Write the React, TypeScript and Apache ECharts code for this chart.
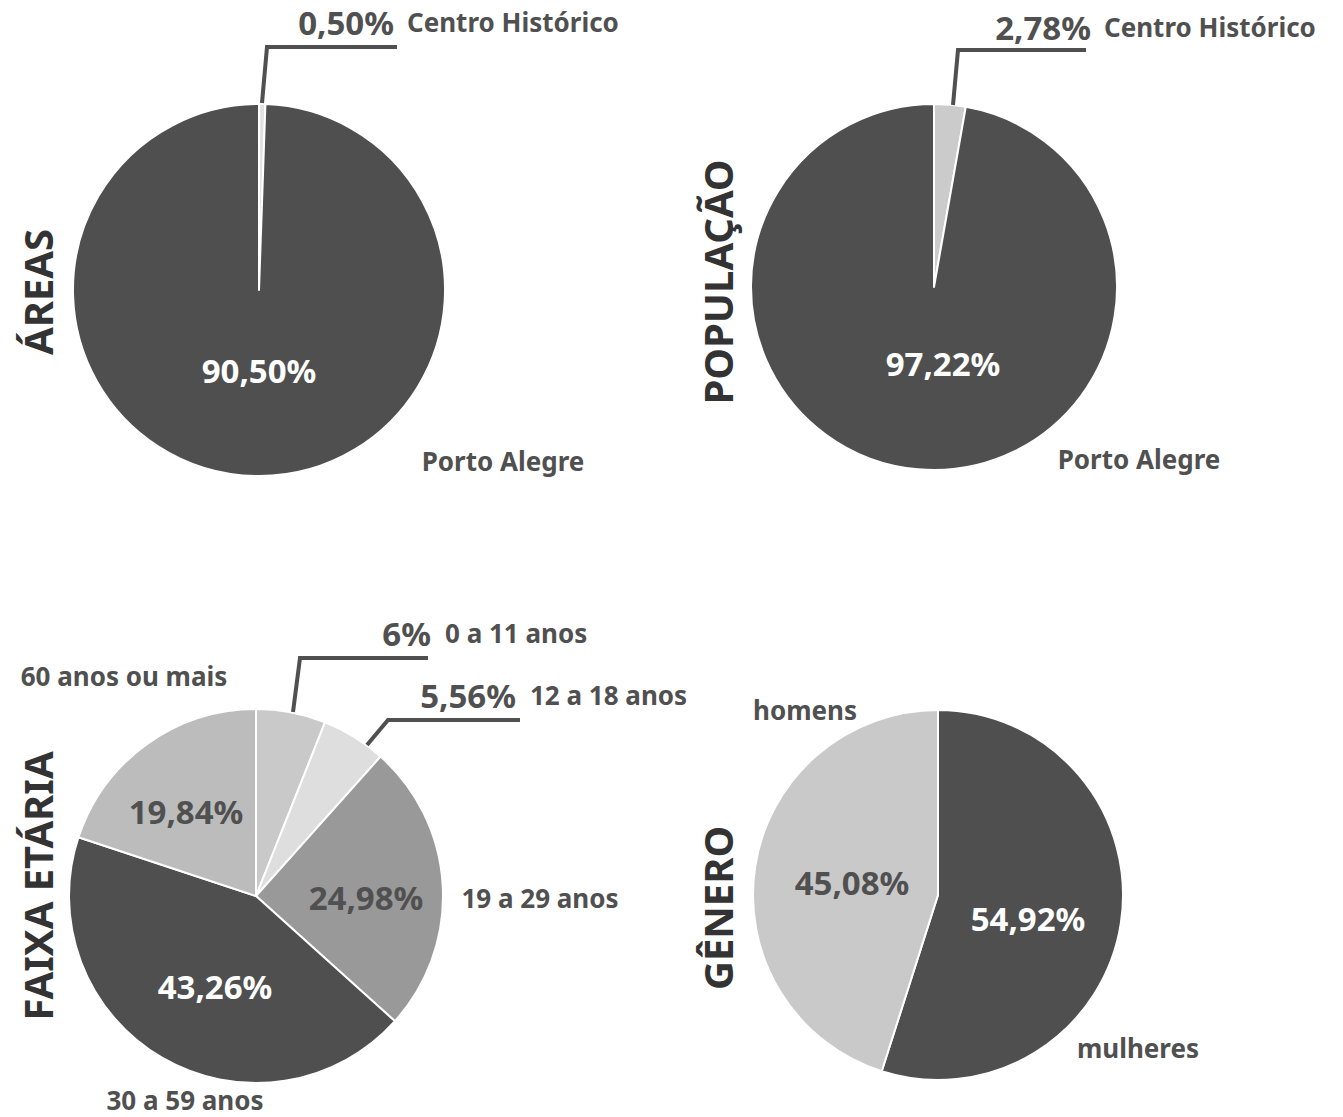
import React, { useEffect, useRef } from "react";
import * as echarts from "echarts";

const areaNames = ["Centro Histórico", "Porto Alegre"];
const areaValues = [0.5, 90.5];
const areaColors = ["#e2e2e2", "#4f4f4f"];

const popNames = ["Centro Histórico", "Porto Alegre"];
const popValues = [2.78, 97.22];
const popColors = ["#cbcbcb", "#4f4f4f"];

const ageNames = ["0 a 11 anos", "12 a 18 anos", "19 a 29 anos", "30 a 59 anos", "60 anos ou mais"];
const ageValues = [6, 5.56, 24.98, 43.26, 19.84];
const ageColors = ["#c9c9c9", "#dedede", "#999999", "#4f4f4f", "#bcbcbc"];

const genderNames = ["mulheres", "homens"];
const genderValues = [54.92, 45.08];
const genderColors = ["#4f4f4f", "#c9c9c9"];

const titles = ["ÁREAS", "POPULAÇÃO", "FAIXA ETÁRIA", "GÊNERO"];

const FONT = "'Noto Sans', 'Open Sans', sans-serif";
const DARK = "#505050";

const fmt = (v: number) =>
  (Number.isInteger(v) ? String(v) : v.toFixed(2).replace(".", ",")) + "%";

function pieSeries(names: string[], values: number[], colors: string[], center: number[], r: number) {
  return {
    type: "pie",
    center,
    radius: r,
    startAngle: 90,
    clockwise: true,
    z: 1,
    label: { show: false },
    labelLine: { show: false },
    silent: true,
    itemStyle: { borderColor: "#ffffff", borderWidth: 2 },
    data: names.map((n, i) => ({ name: n, value: values[i], itemStyle: { color: colors[i] } })),
  };
}

function txt(x: number, y: number, text: string, size: number, color = DARK, align = "center", rotation = 0) {
  return {
    type: "text",
    x,
    y,
    z: 100,
    rotation,
    style: {
      text,
      fill: color,
      font: `bold ${size}px ${FONT}`,
      align,
      verticalAlign: "middle",
    },
  };
}

function line(points: number[][]) {
  return {
    type: "polyline",
    z: 100,
    shape: { points },
    style: { stroke: DARK, lineWidth: 4, fill: null },
  };
}

export default function App() {
  const ref = useRef<HTMLDivElement>(null);
  useEffect(() => {
    if (!ref.current) return;
    const chart = echarts.init(ref.current, null, { renderer: "svg" });
    const PCT = 33;
    const LBL = 26;
    const TTL = 40;
    chart.setOption({
      animation: false,
      backgroundColor: "#ffffff",
      series: [
        pieSeries(areaNames, areaValues, areaColors, [259, 290], 186),
        pieSeries(popNames, popValues, popColors, [934, 287], 183),
        pieSeries(ageNames, ageValues, ageColors, [256, 896], 187),
        pieSeries(genderNames, genderValues, genderColors, [938, 895], 185),
      ],
      graphic: {
        elements: [
          // titles
          txt(37, 292, titles[0], TTL, "#333333", "center", Math.PI / 2),
          txt(717, 282, titles[1], TTL, "#333333", "center", Math.PI / 2),
          txt(37, 886, titles[2], TTL, "#333333", "center", Math.PI / 2),
          txt(717, 908, titles[3], TTL, "#333333", "center", Math.PI / 2),
          // pie 1
          txt(394, 22, fmt(areaValues[0]), PCT, DARK, "right"),
          txt(407, 22, areaNames[0], LBL, DARK, "left"),
          line([[262, 103], [267, 47], [397, 47]]),
          txt(259, 370, fmt(areaValues[1]), PCT, "#ffffff"),
          txt(503, 461, areaNames[1], LBL),
          // pie 2
          txt(1091, 27, fmt(popValues[0]), PCT, DARK, "right"),
          txt(1104, 27, popNames[0], LBL, DARK, "left"),
          line([[953, 105], [958, 50], [1086, 50]]),
          txt(943, 363, fmt(popValues[1]), PCT, "#ffffff"),
          txt(1139, 459, popNames[1], LBL),
          // pie 3
          txt(431, 633, fmt(ageValues[0]), PCT, DARK, "right"),
          txt(445, 633, ageNames[0], LBL, DARK, "left"),
          line([[293, 712], [300, 658], [428, 658]]),
          txt(516, 695, fmt(ageValues[1]), PCT, DARK, "right"),
          txt(530, 695, ageNames[1], LBL, DARK, "left"),
          line([[367, 745], [388, 720], [520, 720]]),
          txt(366, 897, fmt(ageValues[2]), PCT),
          txt(540, 898, ageNames[2], LBL),
          txt(215, 986, fmt(ageValues[3]), PCT, "#ffffff"),
          txt(185, 1100, ageNames[3], LBL),
          txt(186, 811, fmt(ageValues[4]), PCT),
          txt(124, 676, ageNames[4], LBL),
          // pie 4
          txt(1028, 918, fmt(genderValues[0]), PCT, "#ffffff"),
          txt(1138, 1048, genderNames[0], LBL),
          txt(852, 882, fmt(genderValues[1]), PCT),
          txt(805, 710, genderNames[1], LBL),
        ],
      },
    });
    return () => chart.dispose();
  }, []);
  return (
    <div
      ref={ref}
      style={{ position: "absolute", left: 0, top: 0, width: 1343, height: 1117 }}
    />
  );
}
